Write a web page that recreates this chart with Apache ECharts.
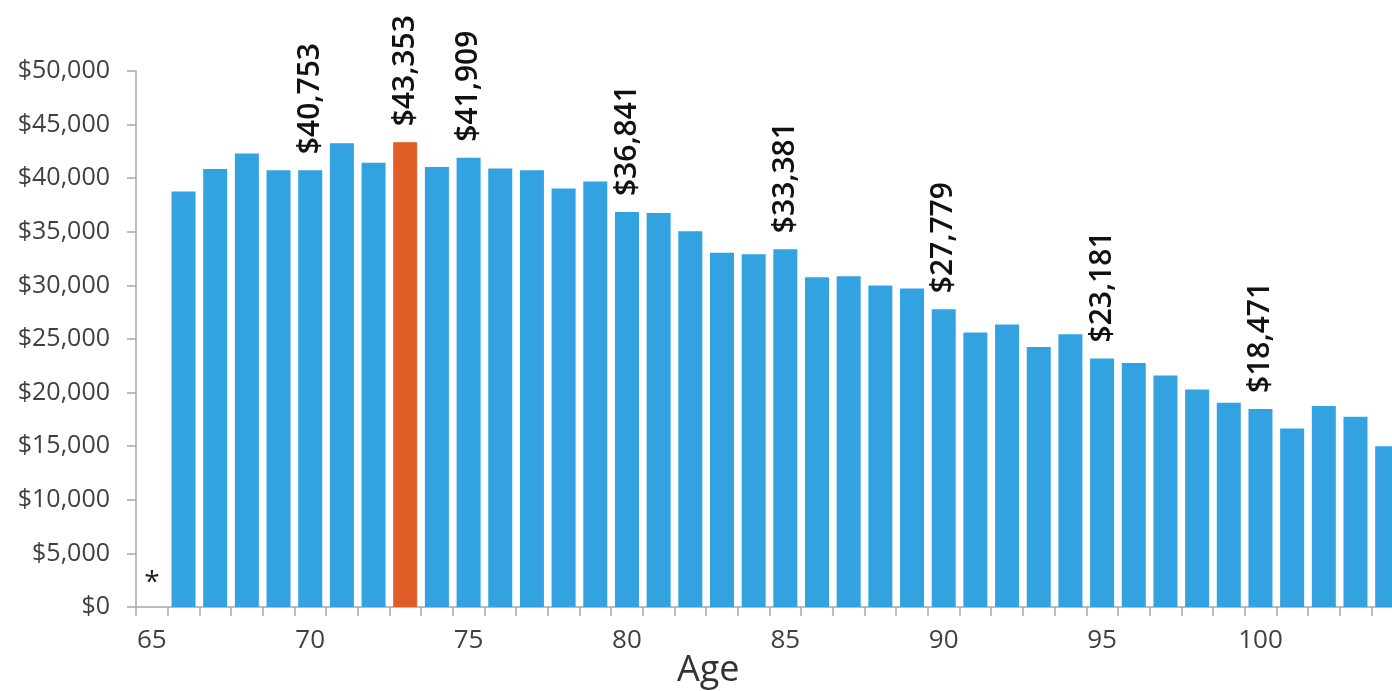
<!DOCTYPE html>
<html>
<head>
<meta charset="utf-8">
<title>Income by Age</title>
<script src="https://cdn.jsdelivr.net/npm/echarts@6/dist/echarts.min.js"></script>
<style>
  html, body { margin: 0; padding: 0; background: #ffffff; }
  #chart { width: 1392px; height: 691px; }
</style>
</head>
<body>
<div id="chart"></div>
<script>
// Ages on the horizontal axis
const ages = ['65','66','67','68','69','70','71','72','73','74','75','76','77','78','79',
  '80','81','82','83','84','85','86','87','88','89','90','91','92','93','94',
  '95','96','97','98','99','100','101','102','103','104'];

// Median income per age (no value for 65)
const income = [null, 38750, 40850, 42300, 40750, 40753, 43250, 41450, 43353, 41050,
  41909, 40900, 40750, 39050, 39700, 36841, 36750, 35050, 33050, 32900,
  33381, 30750, 30850, 30000, 29700, 27779, 25600, 26350, 24250, 25450,
  23181, 22750, 21600, 20300, 19050, 18471, 16650, 18750, 17750, 15000];

// Ages whose value is written above the bar
const labeledAges = ['70', '73', '75', '80', '85', '90', '95', '100'];
// Peak age drawn in orange
const highlightAge = '73';
// Footnote marker for ages without data
const noteMarks = { '65': '*' };

// Y-axis ticks
const yMin = 0, yMax = 50000, yStep = 5000;

const BLUE = '#32a2e0';
const ORANGE = '#df5d27';
const FONT = '"Open Sans", "Noto Sans", sans-serif';

const fmtMoney = v => '$' + Math.round(v).toLocaleString('en-US');

const barData = ages.map((age, i) => {
  const v = income[i];
  const item = { value: v == null ? 0 : v };
  if (age === highlightAge) {
    item.itemStyle = { color: ORANGE, borderColor: ORANGE, borderWidth: 1 };
  }
  if (labeledAges.includes(age)) {
    item.label = {
      show: true,
      position: 'top',
      rotate: 90,
      align: 'left',
      verticalAlign: 'middle',
      distance: 16,
      fontFamily: FONT,
      fontSize: 30,
      fontWeight: 600,
      color: '#111111',
      formatter: p => fmtMoney(p.value)
    };
  } else if (noteMarks[age]) {
    item.label = {
      show: true,
      position: 'top',
      distance: 10,
      fontFamily: FONT,
      fontSize: 28,
      color: '#222222',
      formatter: () => noteMarks[age]
    };
  }
  return item;
});

const chart = echarts.init(document.getElementById('chart'), null, { renderer: 'canvas' });

// The plot runs past the right edge, so the last bar is clipped
chart.setOption({
  animation: false,
  backgroundColor: '#ffffff',
  grid: { left: 136, top: 71, bottom: 84, width: 1267, containLabel: false, outerBoundsMode: 'none' },
  xAxis: {
    type: 'category',
    data: ages,
    boundaryGap: true,
    axisLine: { show: true, lineStyle: { color: '#a6a6a6', width: 1.5 } },
    axisTick: { show: true, alignWithLabel: false, interval: 0, length: 9, lineStyle: { color: '#a6a6a6', width: 1.5 } },
    axisLabel: {
      interval: 4,
      margin: 21,
      fontFamily: FONT,
      fontSize: 26,
      color: '#404040'
    },
    splitLine: { show: false }
  },
  yAxis: {
    type: 'value',
    min: yMin,
    max: yMax,
    interval: yStep,
    axisLine: { show: true, lineStyle: { color: '#a6a6a6', width: 1.5 } },
    axisTick: { show: true, length: 9, lineStyle: { color: '#a6a6a6', width: 1.5 } },
    axisLabel: {
      margin: 26,
      fontFamily: FONT,
      fontSize: 25,
      color: '#404040',
      formatter: v => fmtMoney(v)
    },
    splitLine: { show: false }
  },
  graphic: [{
    type: 'text',
    left: 677,
    top: 653,
    style: { text: 'Age', fontFamily: FONT, fontSize: 36, fill: '#333333' }
  }],
  series: [{
    type: 'bar',
    data: barData,
    barWidth: 24,
    itemStyle: { color: BLUE },
    label: { show: false }
  }]
});
</script>
</body>
</html>
